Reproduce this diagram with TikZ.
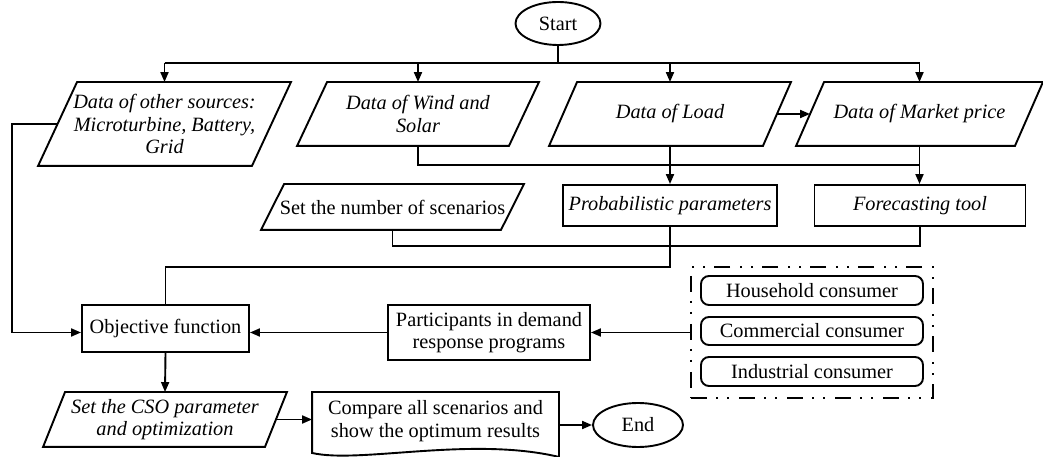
\documentclass[tikz,border=0pt]{standalone}
\usepackage{fontspec}
\setmainfont{Liberation Serif}
\usetikzlibrary{shapes.geometric,arrows.meta}
\newcommand\fsz{\fontsize{20.3}{22.5}\selectfont}
\tikzset{
  lw/.style={line width=1.9pt},
  base/.style={draw, lw, inner sep=0pt, align=center, font=\fsz},
  paratext/.style={base, draw=none},
  term/.style={base, shape=ellipse},
  rbox/.style={base, rounded corners=8pt},
  arr/.style={lw, -{Triangle[length=10pt,width=8pt]}},
  grpbox/.style={draw, lw, dash pattern=on 16pt off 9pt on 2pt off 9pt on 2pt off 10pt},
}
% outline of a parallelogram around node #1 with horizontal slant #2,
% plus coordinates #1-l and #1-r at the middle of its slanted sides
\newcommand\paraoutline[2]{%
  \draw[lw] ([xshift=#2]#1.north west) -- (#1.north east) -- ([xshift=-#2]#1.south east)
     -- (#1.south west) -- cycle;
  \coordinate (#1-l) at ([xshift=#2/2]#1.west);
  \coordinate (#1-r) at ([xshift=-#2/2]#1.east);}
\begin{document}
\begin{tikzpicture}[x=1pt,y=1pt]
\useasboundingbox (0,0) rectangle (1043,457);
% terminals
\node[term, minimum width=85, minimum height=43] (start) at (558,433.5) {Start};
\node[term, minimum width=90, minimum height=44] (endn) at (638,32) {End};
% first row
\node[paratext, font=\fsz\itshape, minimum width=251, minimum height=82] (os) at (164.5,333)
  {Data of other sources:\\Microturbine, Battery,\\Grid};
\paraoutline{os}{39}
\node[paratext, font=\fsz\itshape, minimum width=240, minimum height=62] (wind) at (418,343)
  {Data of Wind and\\Solar};
\paraoutline{wind}{30}
\node[paratext, font=\fsz\itshape, minimum width=240, minimum height=62] (load) at (670,343)
  {Data of Load};
\paraoutline{load}{28}
\node[paratext, font=\fsz\itshape, minimum width=245, minimum height=62] (market) at (919.5,343)
  {Data of Market price};
\paraoutline{market}{28}
% second row
\node[paratext, minimum width=261, minimum height=44] (setnum) at (392.5,250)
  {Set the number of scenarios};
\paraoutline{setnum}{23}
\node[base, font=\fsz\itshape, minimum width=214, minimum height=41] (prob) at (670,251.5)
  {Probabilistic parameters};
\node[base, font=\fsz\itshape, minimum width=211, minimum height=41] (fore) at (920,251.5)
  {Forecasting tool};
% third row
\node[base, minimum width=167, minimum height=47] (obj) at (165.5,128.5) {Objective function};
\node[base, minimum width=202, minimum height=55] (part) at (489,124.5)
  {Participants in demand\\response programs};
\node[grpbox, minimum width=242, minimum height=131] (grp) at (812,124.5) {};
\node[rbox, minimum width=222, minimum height=29] (house) at (812,166.5) {Household consumer};
\node[rbox, minimum width=222, minimum height=28] (comm) at (812,126) {Commercial consumer};
\node[rbox, minimum width=222, minimum height=29] (ind) at (812,85.5) {Industrial consumer};
% last row
\node[paratext, font=\fsz\itshape, minimum width=242, minimum height=53] (cso) at (165,37.5)
  {Set the CSO parameter\\and optimization};
\paraoutline{cso}{22}
\node[base, draw=none, minimum width=245, minimum height=56] (doc) at (435.5,36)
  {Compare all scenarios and\\show the optimum results};
\draw[lw] ([yshift=-3pt]doc.south west) -- (doc.north west) -- (doc.north east)
  -- ([yshift=-7pt]doc.south east) .. controls +(-88,21) and +(47,-11) .. ([yshift=-3pt]doc.south west) -- cycle;
% helper coordinates
\coordinate (bus) at (558,394);
\coordinate (j1) at (0,292);
\coordinate (j2) at (0,211);
\coordinate (j3) at (0,190);
\coordinate (lx) at (12,0);
% connectors
\draw[lw] (start.south) -- (bus);
\draw[lw] (os.north |- bus) -- (market.north |- bus);
\foreach \n in {os,wind,load,market} \draw[arr] (\n.north |- bus) -- (\n.north);
\draw[arr] (load-r) -- (market-l);
\draw[lw] (wind.south) -- (wind.south |- j1) -- (market.south |- j1);
\draw[arr] (load.south) -- (prob.north);
\draw[arr] (market.south) -- (market.south |- fore.north);
\draw[lw] (setnum.south) -- (setnum.south |- j2) -- (fore.south |- j2) -- (fore.south);
\draw[lw] (prob.south) -- (prob.south |- j3) -- (obj.north |- j3) -- (obj.north);
\draw[arr] (os-l) -- (lx |- os-l) |- (obj.west |- part.west);
\draw[arr] (part.west) -- (obj.east |- part.west);
\draw[arr] (grp.west) -- (part.east);
\draw[arr] (obj.south) -- (cso.north);
\draw[arr] (cso-r) -- (doc.west |- cso-r);
\draw[arr] (doc.east |- endn.west) -- (endn.west);
\end{tikzpicture}
\end{document}
